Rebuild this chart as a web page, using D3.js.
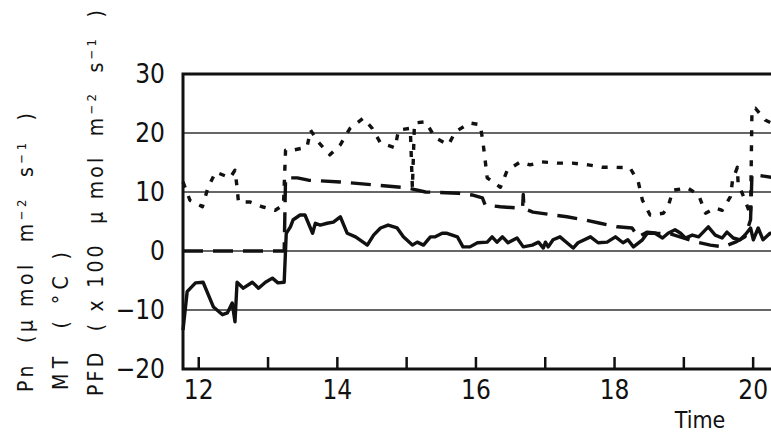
<!DOCTYPE html>
<html>
<head>
<meta charset="utf-8">
<script src="https://cdn.jsdelivr.net/npm/d3@7"></script>
<style>
  body { margin: 0; background: #fff; }
  text { font-family: "Liberation Sans Narrow", "DejaVu Sans Condensed", "Liberation Sans", sans-serif; fill: #111; }
</style>
</head>
<body>
<svg id="svg1" width="771" height="434"></svg>
<script>
// Pn (solid line)
var pnTime  = [11.78, 11.84, 11.96, 12.07, 12.22, 12.35, 12.42, 12.49, 12.53, 12.56, 12.65, 12.78, 12.87, 12.97, 13.07, 13.15, 13.24,
               13.27, 13.33, 13.37, 13.47, 13.54, 13.59, 13.65, 13.69, 13.76, 13.86, 13.95, 14.05, 14.15, 14.27, 14.44, 14.53,
               14.63, 14.74, 14.87, 14.96, 15.09, 15.16, 15.25, 15.35, 15.42, 15.52, 15.59, 15.74, 15.82, 15.92, 16.03, 16.17,
               16.24, 16.31, 16.39, 16.47, 16.60, 16.69, 16.82, 16.91, 16.98, 17.01, 17.05, 17.12, 17.22, 17.32, 17.41, 17.48,
               17.66, 17.77, 17.90, 18.02, 18.13, 18.20, 18.28, 18.41, 18.48, 18.59, 18.70, 18.78, 18.88, 18.96, 19.03, 19.13,
               19.22, 19.36, 19.46, 19.56, 19.63, 19.72, 19.82, 19.89, 19.97, 20.01, 20.08, 20.15, 20.25, 20.40];
var pnValue = [-13.4, -6.9, -5.4, -5.3, -9.5, -10.8, -10.5, -8.8, -12.0, -5.3, -6.3, -5.3, -6.3, -5.3, -4.6, -5.4, -5.3,
               3.0, 4.1, 5.3, 6.1, 6.1, 4.7, 3.0, 4.7, 4.4, 4.7, 4.9, 5.8, 3.0, 2.4, 1.0, 2.7,
               3.9, 4.4, 3.9, 2.4, 1.0, 1.5, 1.0, 2.4, 2.4, 3.0, 3.0, 2.4, 0.7, 0.7, 1.4, 1.5,
               2.4, 1.5, 2.4, 1.4, 2.2, 0.7, 1.0, 1.5, 0.5, 1.5, 0.7, 1.9, 2.4, 1.4, 0.5, 1.4,
               2.4, 1.4, 1.5, 2.4, 1.4, 1.9, 0.7, 1.9, 3.0, 3.0, 2.2, 3.0, 3.6, 3.0, 2.2, 2.7,
               2.4, 4.1, 2.7, 2.2, 3.2, 2.2, 1.9, 2.7, 3.9, 1.9, 3.9, 1.9, 3.0, 2.7];

// PFD x 100 (dotted line)
var pfdTime  = [11.78, 11.88, 12.06, 12.14, 12.25, 12.46, 12.53, 12.56, 12.58, 12.75, 12.92, 13.11, 13.23, 13.26, 13.37, 13.57,
                13.62, 13.73, 13.90, 14.05, 14.19, 14.38, 14.51, 14.63, 14.84, 14.89, 15.06, 15.09, 15.12, 15.28, 15.42, 15.61,
                15.71, 15.92, 16.07, 16.11, 16.14, 16.17, 16.36, 16.46, 16.65, 16.79, 16.96, 17.18, 17.40, 17.63, 17.83, 17.99,
                18.23, 18.35, 18.41, 18.52, 18.71, 18.78, 18.85, 19.06, 19.22, 19.32, 19.46, 19.56, 19.68, 19.71, 19.78, 19.79,
                19.89, 19.97, 19.99, 20.04, 20.18, 20.27, 20.47];
var pfdValue = [11.7, 8.6, 7.5, 10.7, 13.4, 12.4, 13.7, 10.8, 8.3, 8.3, 7.5, 6.9, 7.8, 17.1, 17.1, 17.6,
                20.5, 18.5, 16.3, 18.0, 20.8, 22.5, 20.8, 18.3, 17.5, 20.5, 20.8, 10.7, 21.7, 21.9, 19.2, 18.0,
                20.2, 21.7, 21.4, 18.3, 15.4, 12.4, 10.8, 13.7, 15.1, 14.6, 15.1, 14.9, 14.9, 14.6, 14.2, 14.2,
                14.1, 11.7, 8.6, 6.1, 6.4, 7.5, 10.3, 10.7, 9.5, 6.4, 7.3, 6.9, 9.2, 12.0, 14.2, 11.5,
                8.6, 6.1, 23.9, 24.2, 22.2, 21.7, 20.5];

// MT (dashed line)
var mtTime  = [11.78, 13.24, 13.26, 13.43, 13.59, 14.05, 14.53, 15.02, 15.28, 15.75, 15.95, 16.10, 16.14, 16.36, 16.60, 16.68,
               16.69, 16.70, 16.83, 17.12, 17.32, 17.56, 17.80, 18.05, 18.26, 18.35, 18.48, 18.62, 18.81, 19.20, 19.39, 19.58,
               19.75, 19.89, 19.97, 19.99, 20.04, 20.27, 20.55];
var mtValue = [0, 0, 12.4, 12.4, 12.0, 11.7, 11.2, 10.7, 10.0, 9.8, 9.5, 9.0, 7.8, 7.5, 7.3, 7.3,
               9.6, 7.2, 6.6, 6.1, 5.8, 5.3, 4.7, 4.1, 3.9, 2.4, 3.2, 3.0, 2.9, 1.5, 1.0, 0.7,
               1.5, 2.4, 5.3, 12.9, 12.9, 12.5, 12.5];

var xTicks  = [12, 13, 14, 15, 16, 17, 18, 19, 20, 21];
var xLabels = [12, 14, 16, 18, 20];
var yTicks  = [-20, -10, 0, 10, 20, 30];
var gridAt  = [-10, 0, 10, 20];

const svg    = d3.select("#svg1"),
      margin = {top: 74, left: 183},
      width  = 640,
      height = 295,
      x      = d3.scaleLinear().domain([11.78, 11.78 + width / 69.3]).range([0, width]),
      y      = d3.scaleLinear().domain([-20, 30]).range([height, 0]),
      g      = svg.append("g").attr("transform", `translate(${margin.left},${margin.top})`);

// horizontal grid
g.selectAll(".grid")
  .data(gridAt)
  .enter().append("line")
    .attr("class", "grid")
    .attr("x1", 0).attr("x2", width)
    .attr("y1", d => y(d)).attr("y2", d => y(d))
    .attr("stroke", "#333").attr("stroke-width", 1.4);

// ticks pointing up from the bottom
g.append("g")
    .attr("transform", `translate(0,${height})`)
    .call(d3.axisBottom(x).tickValues(xTicks).tickSize(-12).tickFormat(""))
    .call(a => a.select(".domain").remove())
    .call(a => a.selectAll("line").attr("stroke", "#111").attr("stroke-width", 2.5));

g.append("g")
    .attr("transform", `translate(0,${height})`)
    .call(d3.axisBottom(x).tickValues(xLabels).tickSize(0).tickPadding(12))
    .call(a => a.select(".domain").remove())
    .call(a => a.selectAll("text").style("font-size", "26px").attr("fill", "#111"));

g.append("g")
    .call(d3.axisLeft(y).tickValues(yTicks).tickSize(0).tickPadding(18))
    .call(a => a.select(".domain").remove())
    .call(a => a.selectAll("text").style("font-size", "26px").attr("fill", "#111"));

// series
function drawSeries(times, values, dash) {
  var pts = times.map((t, i) => [t, values[i]]);
  g.append("path")
    .datum(pts)
    .attr("fill", "none")
    .attr("stroke", "#111")
    .attr("stroke-width", 3.4)
    .attr("stroke-linejoin", "round")
    .attr("stroke-dasharray", dash)
    .attr("d", d3.line().x(d => x(d[0])).y(d => y(d[1])));
}
drawSeries(mtTime, mtValue, "20,10");
drawSeries(pfdTime, pfdValue, "6,9");
drawSeries(pnTime, pnValue, null);

// frame: left, top, bottom
g.append("path")
  .attr("d", `M${width},0H0V${height}H${width}`)
  .attr("fill", "none")
  .attr("stroke", "#111")
  .attr("stroke-width", 3);

// axis titles
svg.append("text")
    .attr("x", 700).attr("y", 428)
    .attr("text-anchor", "middle")
    .style("font-size", "23px")
    .text("Time");

function yTitle(xPos, yPos, len, parts) {
  var t = svg.append("text")
    .attr("transform", `translate(${xPos},${yPos}) rotate(-90)`)
    .attr("textLength", len)
    .attr("lengthAdjust", "spacing")
    .style("font-size", "21px")
    .style("white-space", "pre");
  parts.forEach(p => {
    var s = t.append("tspan").text(p[0]);
    if (p[1]) s.attr("baseline-shift", "super").style("font-size", "13px");
  });
}
yTitle(33, 392, 279, [["Pn  (\u03bc mol  m"], ["\u22122", 1], ["  s"], ["\u22121", 1], ["  )"]]);
yTitle(68, 390, 138, [["MT  ( \u00b0C )"]]);
yTitle(103, 396, 386, [["PFD  ( x 100  \u03bc mol  m"], ["\u22122", 1], ["  s"], ["\u22121", 1], ["  )"]]);
</script>
</body>
</html>
